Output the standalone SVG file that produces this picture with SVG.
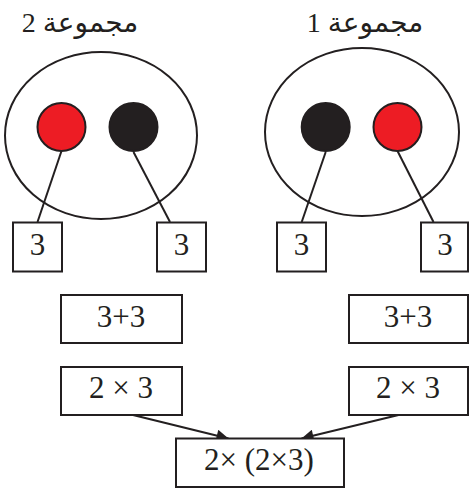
<svg xmlns="http://www.w3.org/2000/svg" width="469" height="491" viewBox="0 0 469 491">
<defs>
<style>
.ring{fill:none;stroke:#231f20;stroke-width:2}
.red{fill:#ed1c24;stroke:#231f20;stroke-width:2}
.blk{fill:#231f20;stroke:#231f20;stroke-width:2}
.box{fill:#fff;stroke:#231f20;stroke-width:2}
.ln{stroke:#231f20;stroke-width:2;fill:none}
text{fill:#231f20;text-anchor:middle}
.num{font-family:"Times New Roman","Liberation Serif",serif;font-size:31px}
.hd{font-family:"Times New Roman","Liberation Serif","DejaVu Sans",serif;font-size:28px}
</style>
<marker id="ah" viewBox="0 0 10 10" refX="10" refY="5" markerWidth="8" markerHeight="6" markerUnits="strokeWidth" orient="auto">
<path d="M0,0 L10,5 L0,10 z" fill="#231f20"/>
</marker>
</defs>
<g id="header2"><text class="hd" x="80" y="32" direction="rtl">مجموعة 2</text></g>
<g id="header1"><text class="hd" x="365" y="32" direction="rtl">مجموعة 1</text></g>
<g id="group2"><ellipse class="ring" cx="101" cy="135.5" rx="96" ry="83.5"/></g>
<g id="group1"><ellipse class="ring" cx="362" cy="132" rx="97" ry="84"/></g>
<g id="connectors">
<line class="ln" x1="61.5" y1="151" x2="37.5" y2="222"/>
<line class="ln" x1="133.5" y1="152" x2="170" y2="222"/>
<line class="ln" x1="325.7" y1="152" x2="301.7" y2="222"/>
<line class="ln" x1="397.5" y1="151" x2="433.5" y2="222"/>
<line class="ln" x1="133" y1="415" x2="228.5" y2="438.5" marker-end="url(#ah)"/>
<line class="ln" x1="398.5" y1="415" x2="301.5" y2="438.5" marker-end="url(#ah)"/>
</g>
<g id="red2"><circle class="red" cx="61.5" cy="127" r="24"/></g>
<g id="black2"><circle class="blk" cx="133.5" cy="127" r="24"/></g>
<g id="black1"><circle class="blk" cx="325.7" cy="127" r="24"/></g>
<g id="red1"><circle class="red" cx="397.5" cy="127" r="24"/></g>
<g id="box-a"><rect class="box" x="13" y="222.5" width="49" height="49"/><text class="num" x="37.5" y="255">3</text></g>
<g id="box-b"><rect class="box" x="157" y="222.5" width="49" height="49"/><text class="num" x="181.5" y="255">3</text></g>
<g id="box-c"><rect class="box" x="277" y="222.5" width="49" height="49"/><text class="num" x="301.5" y="255">3</text></g>
<g id="box-d"><rect class="box" x="421" y="222.5" width="47" height="49"/><text class="num" x="445" y="255">3</text></g>
<g id="sum2"><rect class="box" x="61" y="295" width="121" height="48"/><text class="num" x="121" y="327">3+3</text></g>
<g id="sum1"><rect class="box" x="349" y="295" width="119" height="48"/><text class="num" x="408" y="327">3+3</text></g>
<g id="prod2"><rect class="box" x="61" y="367" width="121" height="48"/><text class="num" x="121" y="398">2 × 3</text></g>
<g id="prod1"><rect class="box" x="349" y="367" width="119" height="48"/><text class="num" x="408" y="398">2 × 3</text></g>
<g id="total"><rect class="box" x="176" y="438.5" width="168" height="48.5"/><text class="num" x="259" y="470">2× (2×3)</text></g>
</svg>
